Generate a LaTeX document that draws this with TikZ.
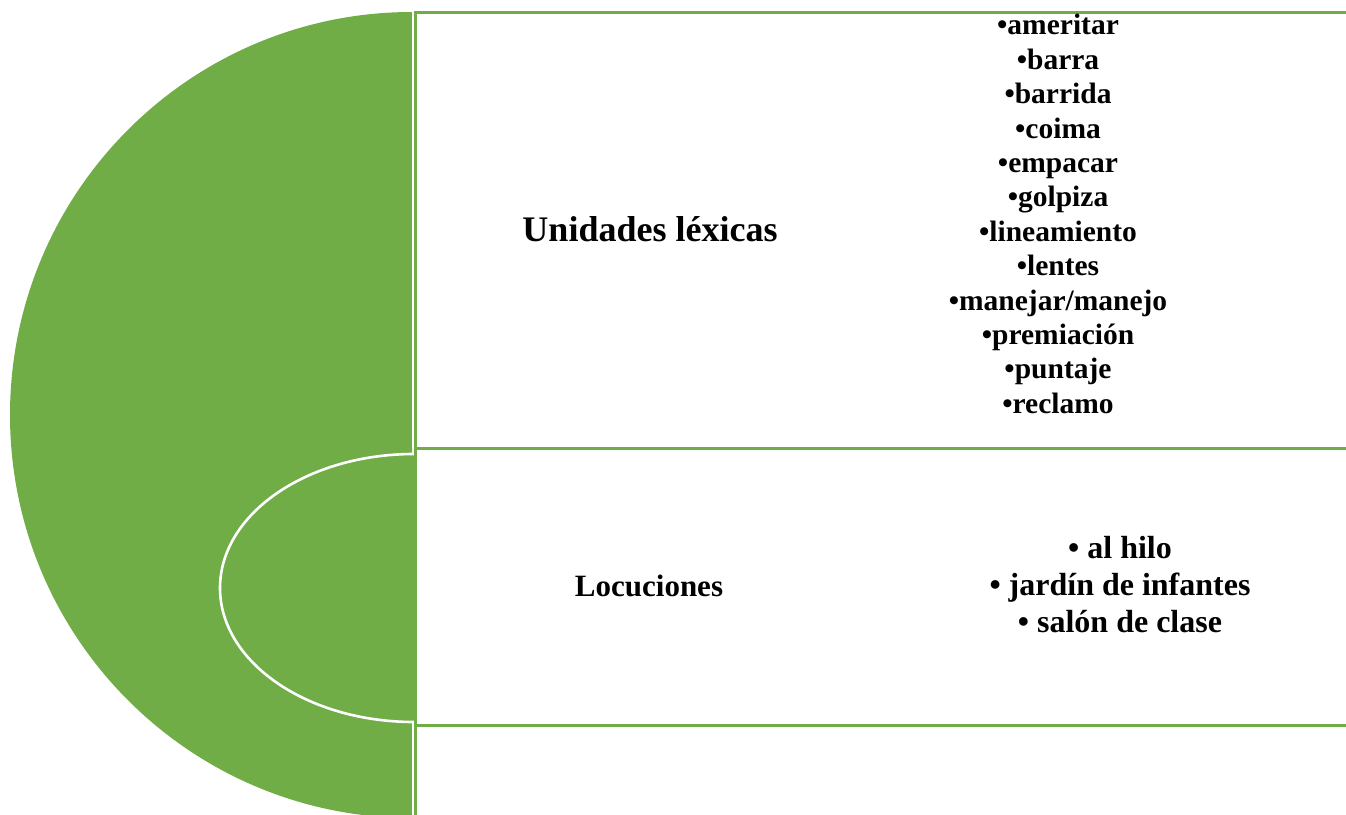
\documentclass[tikz,border=0pt]{standalone}
\usepackage{fontspec}
\setmainfont{Liberation Serif}
\definecolor{leafgreen}{RGB}{112,173,71}
\begin{document}
\begin{tikzpicture}[x=1pt,y=-1pt,
  boxline/.style={draw=leafgreen,line width=3pt},
  gap/.style={draw=white,line width=1.2pt},
  heading/.style={anchor=base,font=\fontsize{36}{40}\selectfont\bfseries},
  subheading/.style={anchor=base,font=\fontsize{31}{36}\selectfont\bfseries},
  wordlist/.style={align=center,inner sep=0pt,font=\fontsize{29.5}{34.4}\selectfont\bfseries},
  phraselist/.style={align=center,inner sep=0pt,font=\fontsize{32}{37}\selectfont\bfseries}]
\useasboundingbox (0,0) rectangle (1346,814);
\clip (0,0) rectangle (1346,814);
\fill[leafgreen] (412,818) arc[start angle=90,end angle=270,x radius=402,y radius=403] -- cycle;
\draw[gap] (413,0) -- (413,448);
\draw[gap] (413,725) -- (413,814);
\fill[leafgreen] (415,722) arc[start angle=90,end angle=270,x radius=194,y radius=134] -- cycle;
\draw[gap,line width=2.6pt] (414,722) arc[start angle=90,end angle=270,x radius=194,y radius=134];
\draw[boxline] (415,12.5) rectangle (1360,448);
\draw[boxline] (415,448) rectangle (1360,725);
\draw[boxline] (415,725) rectangle (1360,830);
\node[heading] (lexhead) at (650,241) {Unidades léxicas};
\node[wordlist] (lexlist) at (1058,214) {•ameritar\\•barra\\•barrida\\•coima\\•empacar\\•golpiza\\•lineamiento\\•lentes\\•manejar/manejo\\•premiación\\•puntaje\\•reclamo};
\node[subheading] (lochead) at (649,596) {Locuciones};
\node[phraselist] (loclist) at (1120,585) {•~al hilo\\•~jardín de infantes\\•~salón de clase};
\end{tikzpicture}
\end{document}
